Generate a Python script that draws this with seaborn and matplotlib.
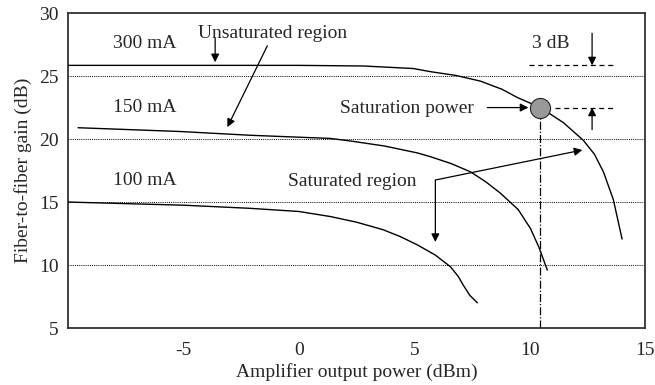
import matplotlib
matplotlib.use("Agg")
import matplotlib.pyplot as plt
import seaborn as sns
import pandas as pd

# gain curves (x: output power dBm, y: gain dB)
x_300 = [-10, -5, 0, 2.8, 4.95, 5.7, 6.8, 7.86, 8.8, 9.46, 10.46, 11.46, 12.32, 12.8, 13.19, 13.62, 14.0]
g_300 = [25.85, 25.85, 25.85, 25.8, 25.6, 25.35, 25.05, 24.6, 23.95, 23.3, 22.5, 21.3, 19.9, 18.8, 17.4, 15.2, 12.06]

x_150 = [-9.57, -5.15, -2.1, 1.36, 2.22, 3.7, 5.13, 5.7, 6.6, 7.43, 8.1, 8.73, 9.5, 10.03, 10.4, 10.76]
g_150 = [20.9, 20.6, 20.3, 20.05, 19.85, 19.45, 18.9, 18.6, 18.05, 17.4, 16.6, 15.7, 14.4, 12.9, 11.4, 9.6]

x_100 = [-10, -5, -2.1, 0, 1.36, 2.5, 3.65, 4.4, 5.13, 5.9, 6.56, 6.9, 7.12, 7.4, 7.73]
g_100 = [15.0, 14.75, 14.5, 14.25, 13.85, 13.4, 12.8, 12.25, 11.6, 10.8, 9.87, 9.1, 8.4, 7.6, 7.0]

sat_x = 10.46
sat_y = 22.5

x_ticks = [-5, 0, 5, 10, 15]
y_ticks = [5, 10, 15, 20, 25, 30]
grid_y = [10, 15, 20, 25]

df = pd.concat([
    pd.DataFrame({"power": x_300, "gain": g_300, "current": "300 mA"}),
    pd.DataFrame({"power": x_150, "gain": g_150, "current": "150 mA"}),
    pd.DataFrame({"power": x_100, "gain": g_100, "current": "100 mA"}),
])

sns.set_style("white")
plt.rcParams['font.family'] = ['Liberation Serif', 'DejaVu Serif']
plt.rcParams['font.size'] = 14
plt.rcParams['axes.unicode_minus'] = False

fig = plt.figure(figsize=(6.55, 3.85), dpi=100)
ax = fig.add_axes([0.104, 0.148, 0.881, 0.818])

for g in grid_y:
    ax.axhline(g, color='black', lw=0.7, ls=(0, (1, 1.2)), zorder=1)

sns.lineplot(data=df, x="power", y="gain", units="current", estimator=None,
             color='black', lw=1.0, sort=False, ax=ax, legend=False, zorder=3)

ax.set_xlim(-10, 15)
ax.set_ylim(5, 30)
ax.set_xticks(x_ticks)
ax.set_yticks(y_ticks)
ax.tick_params(axis='x', direction='in', length=16.5, width=1.0, color='#222222',
               labelsize=14, pad=10)
ax.tick_params(axis='y', length=0, labelsize=14, pad=7)
for s in ax.spines.values():
    s.set_color('#333333')
    s.set_linewidth(1.3)
ax.set_xlabel('Amplifier output power (dBm)', fontsize=14, labelpad=3)
ax.set_ylabel('Fiber-to-fiber gain (dB)', fontsize=14, labelpad=5)

arr = dict(arrowstyle='-|>', color='black', lw=0.9, mutation_scale=12,
           shrinkA=0, shrinkB=0)

# curve labels
ax.text(-6.66, 27.6, '300 mA', ha='center', va='center')
ax.text(-6.66, 22.5, '150 mA', ha='center', va='center')
ax.text(-6.66, 16.75, '100 mA', ha='center', va='center')

# unsaturated region
ax.text(-1.14, 28.4, 'Unsaturated region', ha='center', va='center')
ax.annotate('', xy=(-3.63, 26.1), xytext=(-3.63, 28.0), arrowprops=arr)
ax.annotate('', xy=(-3.1, 20.95), xytext=(-1.37, 27.4), arrowprops=arr)

# saturation power marker
ax.scatter([sat_x], [sat_y], s=210, color='#999999', edgecolor='#222222',
           linewidth=0.8, zorder=5)
ax.text(4.69, sat_y - 0.1, 'Saturation power', ha='center', va='center')
ax.annotate('', xy=(9.94, sat_y), xytext=(8.16, sat_y), arrowprops=arr)
ax.plot([sat_x, sat_x], [5, sat_y], color='black', lw=0.9, ls='-.', zorder=2)
ax.plot([11.1, 13.6], [sat_y, sat_y], color='black', lw=0.9, ls=(0, (4, 3)))
ax.plot([9.98, 13.6], [25.85, 25.85], color='black', lw=0.9, ls=(0, (4, 3)))
ax.text(10.9, 27.6, '3 dB', ha='center', va='center')
ax.annotate('', xy=(12.7, 25.85), xytext=(12.7, 28.4), arrowprops=arr)
ax.annotate('', xy=(12.7, sat_y), xytext=(12.7, 20.75), arrowprops=arr)

# saturated region
ax.text(2.31, 16.6, 'Saturated region', ha='center', va='center')
ax.annotate('', xy=(12.28, 19.13), xytext=(5.91, 16.75), arrowprops=arr)
ax.annotate('', xy=(5.91, 11.83), xytext=(5.91, 16.75), arrowprops=arr)

fig.savefig('out.png', dpi=100)
